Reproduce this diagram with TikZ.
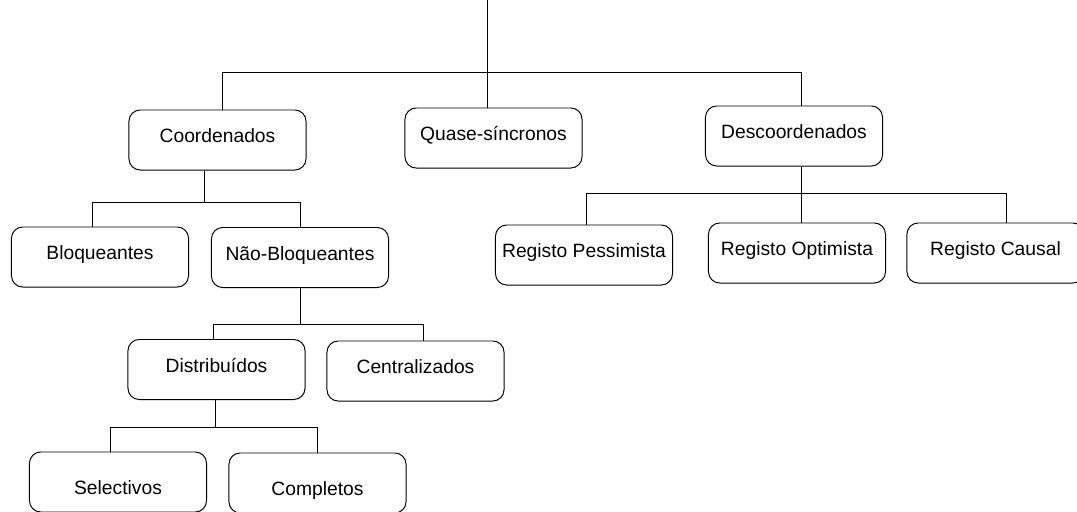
\documentclass[tikz,border=0pt]{standalone}
\usepackage{fontspec}
\setmainfont{Liberation Sans}
\usepackage{tikz}
\usetikzlibrary{calc}

\tikzset{
  rbox/.style={draw, rounded corners=0.28cm, line width=0.7pt,
    minimum width=4.425cm, minimum height=1.5cm, inner sep=2pt,
    text height=0.35cm, text depth=0.21cm,
    font=\fontsize{13.7pt}{16pt}\selectfont},
  lowtext/.style={text height=0.64cm, text depth=0cm},
  link/.style={line width=0.7pt}
}

\begin{document}
\begin{tikzpicture}[x=0.025cm, y=-0.025cm]
  \useasboundingbox (0,0) rectangle (1077,512);
  \node[rbox] (coord) at (217.5,140) {Coordenados};
  \node[rbox] (quase) at (493.5,138) {Quase-síncronos};
  \node[rbox] (descoord) at (794,136) {Descoordenados};
  \node[rbox] (bloq) at (100,257) {Bloqueantes};
  \node[rbox] (naobloq) at (300,257.5) {Não-Bloqueantes};
  \node[rbox] (pessim) at (584,255) {Registo Pessimista};
  \node[rbox] (optim) at (797,253) {Registo Optimista};
  \node[rbox] (causal) at (995.5,253) {Registo Causal};
  \node[rbox] (distrib) at (216.5,369.5) {Distribuídos};
  \node[rbox] (central) at (415.5,371) {Centralizados};
  \node[rbox, lowtext] (selec) at (118,482) {Selectivos};
  \node[rbox, lowtext] (compl) at (317.5,483) {Completos};
  \coordinate (top) at (487,0);
  \draw[link] (top) -- (top |- quase.north);
  \draw[link] (top |- 0,72) -| ($(coord.north)+(4.5,0)$);
  \draw[link] (top |- 0,72) -| ($(descoord.north)+(7,0)$);
  \draw[link] ($(coord.south)+(-13.5,0)$) -- ++(0,32) -| ($(bloq.north)+(-8,0)$);
  \draw[link] ($(coord.south)+(-13.5,0)$) -- ++(0,32) -| (naobloq.north);
  \draw[link] (naobloq.south) -- ++(0,36) -| ($(distrib.north)+(-3.5,0)$);
  \draw[link] (naobloq.south) -- ++(0,36) -| ($(central.north)+(7.5,0)$);
  \draw[link] ($(distrib.south)+(-1.5,0)$) -- ++(0,27.5) -| ($(selec.north)+(-8,0)$);
  \draw[link] ($(distrib.south)+(-1.5,0)$) -- ++(0,27.5) -| (compl.north);
  \draw[link] ($(descoord.south)+(7,0)$) -- ++(0,27) -| ($(pessim.north)+(2,0)$);
  \draw[link] ($(descoord.south)+(7,0)$) -- ++(0,27) -| ($(optim.north)+(4,0)$);
  \draw[link] ($(descoord.south)+(7,0)$) -- ++(0,27) -| ($(causal.north)+(10.5,0)$);
\end{tikzpicture}
\end{document}
